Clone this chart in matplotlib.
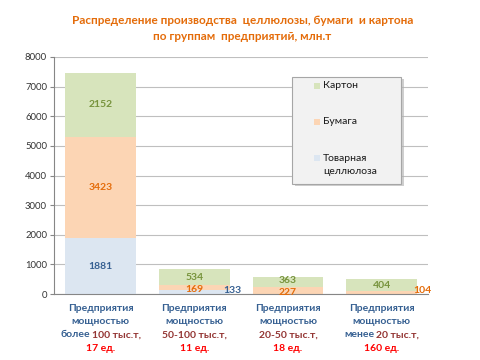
import matplotlib
matplotlib.use('Agg')
import matplotlib.pyplot as plt
import numpy as np
from matplotlib.patches import Rectangle
from matplotlib.offsetbox import TextArea, HPacker, VPacker, AnnotationBbox

plt.rcParams['font.family'] = ['Lato', 'DejaVu Sans']

group_prefix = ['более', '', '', 'менее']
group_size = ['100 тыс.т,', '50-100 тыс.т,', '20-50 тыс.т,', '20 тыс.т,']
counts = ['17 ед.', '11 ед.', '18 ед.', '160 ед.']
cellulose = [1881, 133, 0, 0]
paper = [3423, 169, 227, 104]
carton = [2152, 534, 363, 404]
series_names = ['Товарная\nцеллюлоза', 'Бумага', 'Картон']

fill_cols = ['#dce6f1', '#fcd5b4', '#d7e4bc']
text_cols = ['#366092', '#e46c0a', '#77933c']

fig = plt.figure(figsize=(4.8, 3.6), dpi=100)
ax = fig.add_axes([0.1125, 0.183, 0.78, 0.659])

x = np.arange(len(counts))
w = 0.755
cel = np.array(cellulose)
pap = np.array(paper)
car = np.array(carton)

ax.bar(x, cel, w, color=fill_cols[0], zorder=2)
ax.bar(x, pap, w, bottom=cel, color=fill_cols[1], zorder=2)
ax.bar(x, car, w, bottom=cel + pap, color=fill_cols[2], zorder=2)

lab = dict(fontsize=7.5, fontweight='bold', zorder=3)
for i in range(len(x)):
    # cellulose
    if cel[i] > 500:
        ax.text(x[i], cel[i] / 2, str(cel[i]), ha='center', va='center',
                color=text_cols[0], **lab)
    elif cel[i] > 0:
        ax.text(x[i] + w / 2 - 0.07, cel[i] / 2 + 60, str(cel[i]), ha='left',
                va='center', color=text_cols[0], **lab)
    # paper
    if pap[i] > 150:
        ax.annotate(str(pap[i]), (x[i], cel[i] + pap[i] / 2),
                    xytext=(0, -1 if pap[i] < 300 else 0),
                    textcoords='offset points', ha='center', va='center',
                    color=text_cols[1], **lab)
    else:
        ax.text(x[i] + w / 2 - 0.04, cel[i] + pap[i] / 2 + 80, str(pap[i]),
                ha='left', va='center', color=text_cols[1], **lab)
    # carton
    ax.annotate(str(car[i]), (x[i], cel[i] + pap[i] + car[i] / 2),
                xytext=(0, 1 if car[i] < 400 else 0),
                textcoords='offset points', ha='center', va='center',
                color=text_cols[2], **lab)

ax.set_xlim(-0.5, 3.5)
ax.set_ylim(0, 8000)
ax.set_yticks(np.arange(0, 8001, 1000))
ax.tick_params(axis='y', labelsize=6.8, length=3, color='#868686',
               labelcolor='#333333', pad=2)
ax.set_xticks([])
ax.yaxis.grid(True, color='#bfbfbf', lw=0.8, zorder=0)
ax.set_axisbelow(True)
for s in ['top', 'right']:
    ax.spines[s].set_visible(False)
ax.spines['left'].set_color('#868686')
ax.spines['bottom'].set_color('#868686')

# category labels, several colours per label
cat = dict(fontsize=7.5, fontweight='bold')
for i in range(len(x)):
    line3 = []
    if group_prefix[i]:
        line3.append(TextArea(group_prefix[i], textprops=dict(color='#366092', **cat)))
    line3.append(TextArea(group_size[i], textprops=dict(color='#943634', **cat)))
    rows = [TextArea('Предприятия', textprops=dict(color='#366092', **cat)),
            TextArea('мощностью', textprops=dict(color='#366092', **cat)),
            HPacker(children=line3, align='baseline', pad=0, sep=1.5),
            TextArea(counts[i], textprops=dict(color='#ff0000', **cat))]
    box = VPacker(children=rows, align='center', pad=0, sep=3.2)
    ab = AnnotationBbox(box, (x[i], -0.04), xycoords=ax.get_xaxis_transform(),
                        box_alignment=(0.5, 1), frameon=False,
                        annotation_clip=False)
    ax.add_artist(ab)

# legend box
lx0, ly0, lw, lh = 292 / 480, 1 - 184 / 360, 109 / 480, 107 / 360
fig.patches.append(Rectangle((lx0 + 2.5 / 480, ly0 - 2.5 / 360), lw, lh,
                             transform=fig.transFigure, facecolor='#b0b0b0',
                             edgecolor='none', alpha=0.6, zorder=5))
fig.patches.append(Rectangle((lx0, ly0), lw, lh, transform=fig.transFigure,
                             facecolor='#f2f2f2', edgecolor='#a6a6a6',
                             lw=0.8, zorder=6))
leg_y = [86, 122, 165]
leg_items = [(series_names[2], fill_cols[2]), (series_names[1], fill_cols[1]),
             (series_names[0], fill_cols[0])]
for (name, col), yy in zip(leg_items, leg_y):
    hy = yy if '\n' not in name else yy - 7
    fig.patches.append(Rectangle((314 / 480, 1 - (hy + 3) / 360), 6 / 480, 6 / 360,
                                 transform=fig.transFigure, facecolor=col,
                                 edgecolor='none', zorder=7))
    fig.text(323 / 480, 1 - yy / 360, name, ha='left', va='center',
             fontsize=7.5, color='#1a1a1a', linespacing=1.5, zorder=7)

fig.text(0.505, 0.921, 'Распределение производства  целлюлозы, бумаги  и картона\nпо группам  предприятий, млн.т',
         ha='center', va='center', fontsize=8.5, fontweight='bold',
         color='#e46c0a', linespacing=1.6)

fig.savefig('out.png', dpi=100)
